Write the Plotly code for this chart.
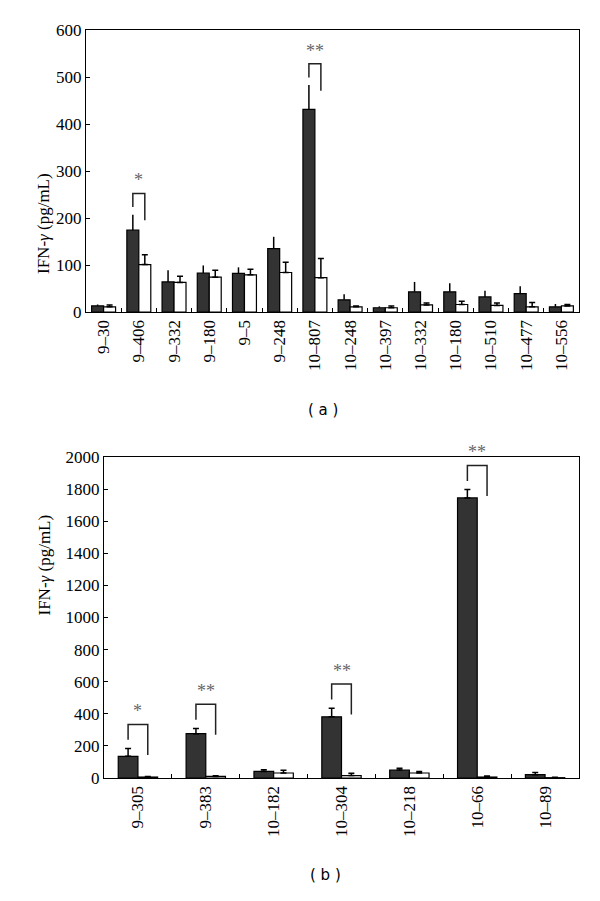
import plotly.graph_objects as go

# panel (a) data
cats_a = ['9–30', '9–406', '9–332', '9–180', '9–5', '9–248', '10–807',
          '10–248', '10–397', '10–332', '10–180', '10–510', '10–477', '10–556']
dark_a = [13, 174, 64, 83, 82, 135, 431, 26, 9, 43, 43, 32, 39, 11]
dark_err_a = [3, 33, 25, 16, 13, 25, 52, 12, 3, 21, 18, 13, 16, 6]
white_a = [11, 101, 63, 74, 79, 84, 73, 11, 9, 15, 16, 14, 11, 13]
white_err_a = [4, 21, 13, 15, 12, 22, 41, 2, 4, 4, 7, 5, 9, 3]
sig_a = {'9–406': '*', '10–807': '**'}

# panel (b) data
cats_b = ['9–305', '9–383', '10–182', '10–304', '10–218', '10–66', '10–89']
dark_b = [135, 276, 41, 381, 50, 1745, 21]
dark_err_b = [49, 33, 11, 54, 10, 52, 14]
white_b = [6, 10, 31, 15, 31, 6, 2]
white_err_b = [4, 4, 17, 14, 10, 6, 2]
sig_b = {'9–305': '*', '9–383': '**', '10–304': '**', '10–66': '**'}

SERIF = 'Liberation Serif'
DARK = '#333333'
W, H = 600, 901
OFF = 8  # page body margin


def px(x):
    return (x - OFF) / W


def py(y):
    return 1 - (y - OFF) / H


fig = go.Figure()
shapes = []
annotations = []


def add_panel(ax, cats, dark, dark_err, white, white_err, sig, w, ymax, dark_cap):
    xa = 'x' if ax == 1 else 'x%d' % ax
    ya = 'y' if ax == 1 else 'y%d' % ax
    fig.add_trace(go.Bar(x=cats, y=dark, width=w, offset=-w, xaxis=xa, yaxis=ya,
                         marker=dict(color=DARK, line=dict(color='black', width=1.2)),
                         error_y=dict(type='data', array=dark_err, arrayminus=[0] * len(cats),
                                      symmetric=False, color='black', thickness=1.5,
                                      width=dark_cap),
                         showlegend=False))
    fig.add_trace(go.Bar(x=cats, y=white, width=w, offset=0, xaxis=xa, yaxis=ya,
                         marker=dict(color='white', line=dict(color='black', width=1.2)),
                         error_y=dict(type='data', array=white_err, arrayminus=[0] * len(cats),
                                      symmetric=False, color='black', thickness=1.5, width=3),
                         showlegend=False))
    # significance brackets
    for i, c in enumerate(cats):
        if c not in sig:
            continue
        top = dark[i] + dark_err[i]
        xl = i - w / 2
        xr = i + w / 2
        y_lb = top + 0.027 * ymax
        y_top = top + 0.075 * ymax
        y_rb = top - 0.02 * ymax
        path = 'M %f,%f L %f,%f L %f,%f L %f,%f' % (xl, y_lb, xl, y_top, xr, y_top, xr, y_rb)
        shapes.append(dict(type='path', path=path, xref=xa, yref=ya,
                           line=dict(color='#222222', width=1.5)))
        annotations.append(dict(x=i, y=y_top + 0.004 * ymax, xref=xa, yref=ya,
                                text=sig[c], showarrow=False, yanchor='bottom',
                                font=dict(family=SERIF, size=18, color='#666666')))


add_panel(1, cats_a, dark_a, dark_err_a, white_a, white_err_a, sig_a, 0.34, 600, 0)
add_panel(2, cats_b, dark_b, dark_err_b, white_b, white_err_b, sig_b, 0.29, 2000, 3)

xcommon = dict(type='category', tickson='boundaries', ticks='inside', ticklen=4,
               tickcolor='black', tickangle=-90, showline=True, linecolor='black',
               linewidth=1.2, mirror=True, showgrid=False, automargin=False,
               tickfont=dict(family=SERIF, size=17, color='black'))
ycommon = dict(ticks='inside', ticklen=4, tickcolor='black', showline=True,
               linecolor='black', linewidth=1.2, mirror=True, showgrid=False,
               zeroline=False, automargin=False,
               tickfont=dict(family=SERIF, size=17, color='black'))

ytitle = 'IFN-<i>γ</i> (pg/mL)'
annotations.append(dict(x=px(32), y=(py(30) + py(312)) / 2, xref='paper', yref='paper',
                        text=ytitle, textangle=-90, showarrow=False,
                        font=dict(family=SERIF, size=17, color='black')))
annotations.append(dict(x=px(32), y=(py(457) + py(778)) / 2, xref='paper', yref='paper',
                        text=ytitle, textangle=-90, showarrow=False,
                        font=dict(family=SERIF, size=17, color='black')))
annotations.append(dict(x=px(323), y=py(410), xref='paper', yref='paper',
                        text='( a )', showarrow=False,
                        font=dict(family='DejaVu Sans', size=15, color='black')))
annotations.append(dict(x=px(325), y=py(886), xref='paper', yref='paper',
                        text='( b )', showarrow=False,
                        font=dict(family='DejaVu Sans', size=15, color='black')))

fig.update_layout(
    width=W, height=H,
    margin=dict(l=0, r=0, t=0, b=0),
    paper_bgcolor='white', plot_bgcolor='white',
    barmode='overlay',
    xaxis=dict(xcommon, domain=[px(86), px(579)], anchor='y'),
    yaxis=dict(ycommon, domain=[py(312), py(30)], range=[0, 600], dtick=100, anchor='x'),
    xaxis2=dict(xcommon, domain=[px(104), px(579)], anchor='y2'),
    yaxis2=dict(ycommon, domain=[py(778), py(457)], range=[0, 2000], dtick=200, anchor='x2'),
    shapes=shapes,
    annotations=annotations,
)

fig.write_html("out.html")
